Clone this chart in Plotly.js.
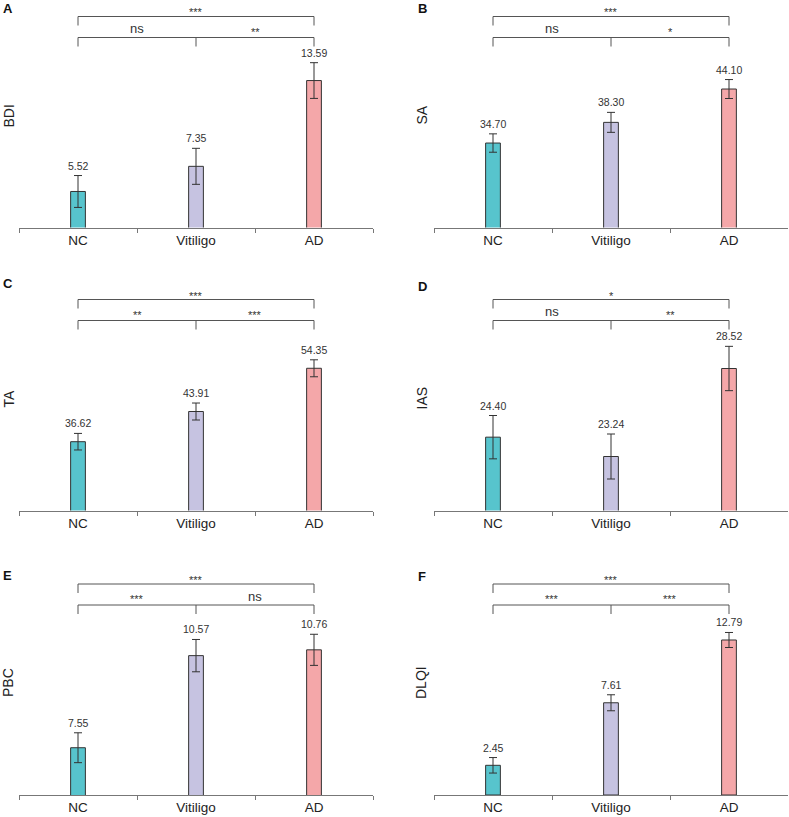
<!DOCTYPE html>
<html>
<head>
<meta charset="utf-8">
<script src="https://cdn.plot.ly/plotly-3.0.1.min.js"></script>
<style>html,body{margin:0;padding:0;background:#fff;}#chart{width:789px;height:817px;}</style>
</head>
<body>
<div id="chart"></div>
<script>
// ---------- data ----------
const categories = ['NC', 'Vitiligo', 'AD'];
const panelLetters = ['A', 'B', 'C', 'D', 'E', 'F'];
const measures = ['BDI', 'SA', 'TA', 'IAS', 'PBC', 'DLQI'];

const bdiMeans = [5.52, 7.35, 13.59];
const bdiErr = [1.16, 1.31, 1.30];
const saMeans = [34.70, 38.30, 44.10];
const saErr = [1.60, 1.74, 1.65];
const taMeans = [36.62, 43.91, 54.35];
const taErr = [2.00, 2.05, 2.05];
const iasMeans = [24.40, 23.24, 28.52];
const iasErr = [1.30, 1.35, 1.33];
const pbcMeans = [7.55, 10.57, 10.76];
const pbcErr = [0.49, 0.53, 0.51];
const dlqiMeans = [2.45, 7.61, 12.79];
const dlqiErr = [0.64, 0.66, 0.62];

const sigLeft = ['ns', 'ns', '**', 'ns', '***', '***'];   // NC vs Vitiligo
const sigRight = ['**', '*', '***', '**', 'ns', '***'];   // Vitiligo vs AD
const sigTop = ['***', '***', '***', '*', '***', '***'];  // NC vs AD

const allMeans = [bdiMeans, saMeans, taMeans, iasMeans, pbcMeans, dlqiMeans];
const allErr = [bdiErr, saErr, taErr, iasErr, pbcErr, dlqiErr];

// ---------- layout settings ----------
const yRanges = [[2.9, 18.54], [20, 57.42], [20, 71.93], [20, 32.9], [6, 13.05], [0, 17.74]];
const barColors = ['#57C4CD', '#C6C3E1', '#F4A7A9'];
const W = 789, H = 817;
const colX = [[19, 373], [434, 788]];
const rowBottom = [227.5, 510.5, 795];
const plotH = 215;
const px = v => v / W;
const py = v => 1 - v / H;

const traces = [];
const shapes = [];
const annotations = [];
const layout = {
  width: W, height: H,
  margin: {l: 0, r: 0, t: 0, b: 0},
  paper_bgcolor: '#fff', plot_bgcolor: '#fff',
  showlegend: false,
  font: {family: 'Liberation Sans, Arial, sans-serif', color: '#222'}
};

for (let p = 0; p < 6; p++) {
  const col = p % 2, row = Math.floor(p / 2);
  const n = p + 1;
  const xa = 'x' + (n === 1 ? '' : n), ya = 'y' + (n === 1 ? '' : n);
  const xKey = 'xaxis' + (n === 1 ? '' : n), yKey = 'yaxis' + (n === 1 ? '' : n);
  const yb = rowBottom[row];
  const means = allMeans[p], errs = allErr[p];

  layout[xKey] = {
    domain: [px(colX[col][0]), px(colX[col][1])],
    anchor: ya,
    type: 'category',
    range: [-0.5, 2.5],
    tickson: 'boundaries',
    ticks: 'outside', ticklen: 4, tickcolor: '#777', tickwidth: 1,
    showline: true, linecolor: '#777', linewidth: 1,
    showgrid: false, zeroline: false,
    tickfont: {size: 13.5, color: '#222'},
    fixedrange: true
  };
  layout[yKey] = {
    domain: [py(yb), py(yb - plotH)],
    anchor: xa,
    range: yRanges[p],
    showgrid: false, zeroline: false, showline: false,
    showticklabels: false, ticks: '',
    fixedrange: true
  };

  traces.push({
    type: 'bar', x: categories, y: means, xaxis: xa, yaxis: ya,
    width: 0.125,
    marker: {color: barColors, line: {color: '#333', width: 1}},
    error_y: {type: 'data', array: errs, visible: true, color: '#333', thickness: 1, width: 4},
    hoverinfo: 'x+y'
  });

  // value labels
  for (let i = 0; i < categories.length; i++) {
    annotations.push({
      xref: xa, yref: ya, x: i, y: means[i] + errs[i],
      text: means[i].toFixed(2), showarrow: false,
      yanchor: 'bottom', yshift: 2,
      font: {size: 10.5, color: '#333'}
    });
  }

  // brackets
  const lineStyle = {color: '#555', width: 1};
  const upY = yb - 211, lowY = yb - 190, drop = 9;
  shapes.push({type: 'line', xref: xa, yref: 'paper', x0: 0, x1: 2, y0: py(upY), y1: py(upY), line: lineStyle});
  [0, 2].forEach(k => shapes.push({type: 'line', xref: xa, yref: 'paper', x0: k, x1: k, y0: py(upY), y1: py(upY + drop), line: lineStyle}));
  shapes.push({type: 'line', xref: xa, yref: 'paper', x0: 0, x1: 2, y0: py(lowY), y1: py(lowY), line: lineStyle});
  [0, 1, 2].forEach(k => shapes.push({type: 'line', xref: xa, yref: 'paper', x0: k, x1: k, y0: py(lowY), y1: py(lowY + drop), line: lineStyle}));

  const sigAnn = (x, lineY, txt, isTop) => {
    const isNs = txt === 'ns';
    annotations.push({
      xref: xa, yref: 'paper', x: x,
      y: py(lineY - (isNs ? 9 : (isTop ? 4 : 6))),
      yanchor: 'middle', text: txt, showarrow: false,
      font: {size: isNs ? 13 : 11, color: '#333'}
    });
  };
  sigAnn(1, upY, sigTop[p], true);
  sigAnn(0.5, lowY, sigLeft[p], false);
  sigAnn(1.5, lowY, sigRight[p], false);

  // y title
  annotations.push({
    xref: 'paper', yref: 'paper',
    x: px(col === 0 ? 8 : 421), y: py(yb - 112),
    xanchor: 'center', yanchor: 'middle', textangle: -90,
    text: measures[p], showarrow: false,
    font: {size: 14, color: '#222'}
  });

  // panel letter
  const letterY = [8, 8, 283.5, 286, 575, 576][p];
  annotations.push({
    xref: 'paper', yref: 'paper',
    x: px(col === 0 ? 1 : 416), y: py(letterY),
    xanchor: 'left', yanchor: 'middle',
    text: '<b>' + panelLetters[p] + '</b>', showarrow: false,
    font: {size: 13, color: '#111'}
  });
}

layout.shapes = shapes;
layout.annotations = annotations;

Plotly.newPlot('chart', traces, layout, {displayModeBar: false, staticPlot: true});
</script>
</body>
</html>
